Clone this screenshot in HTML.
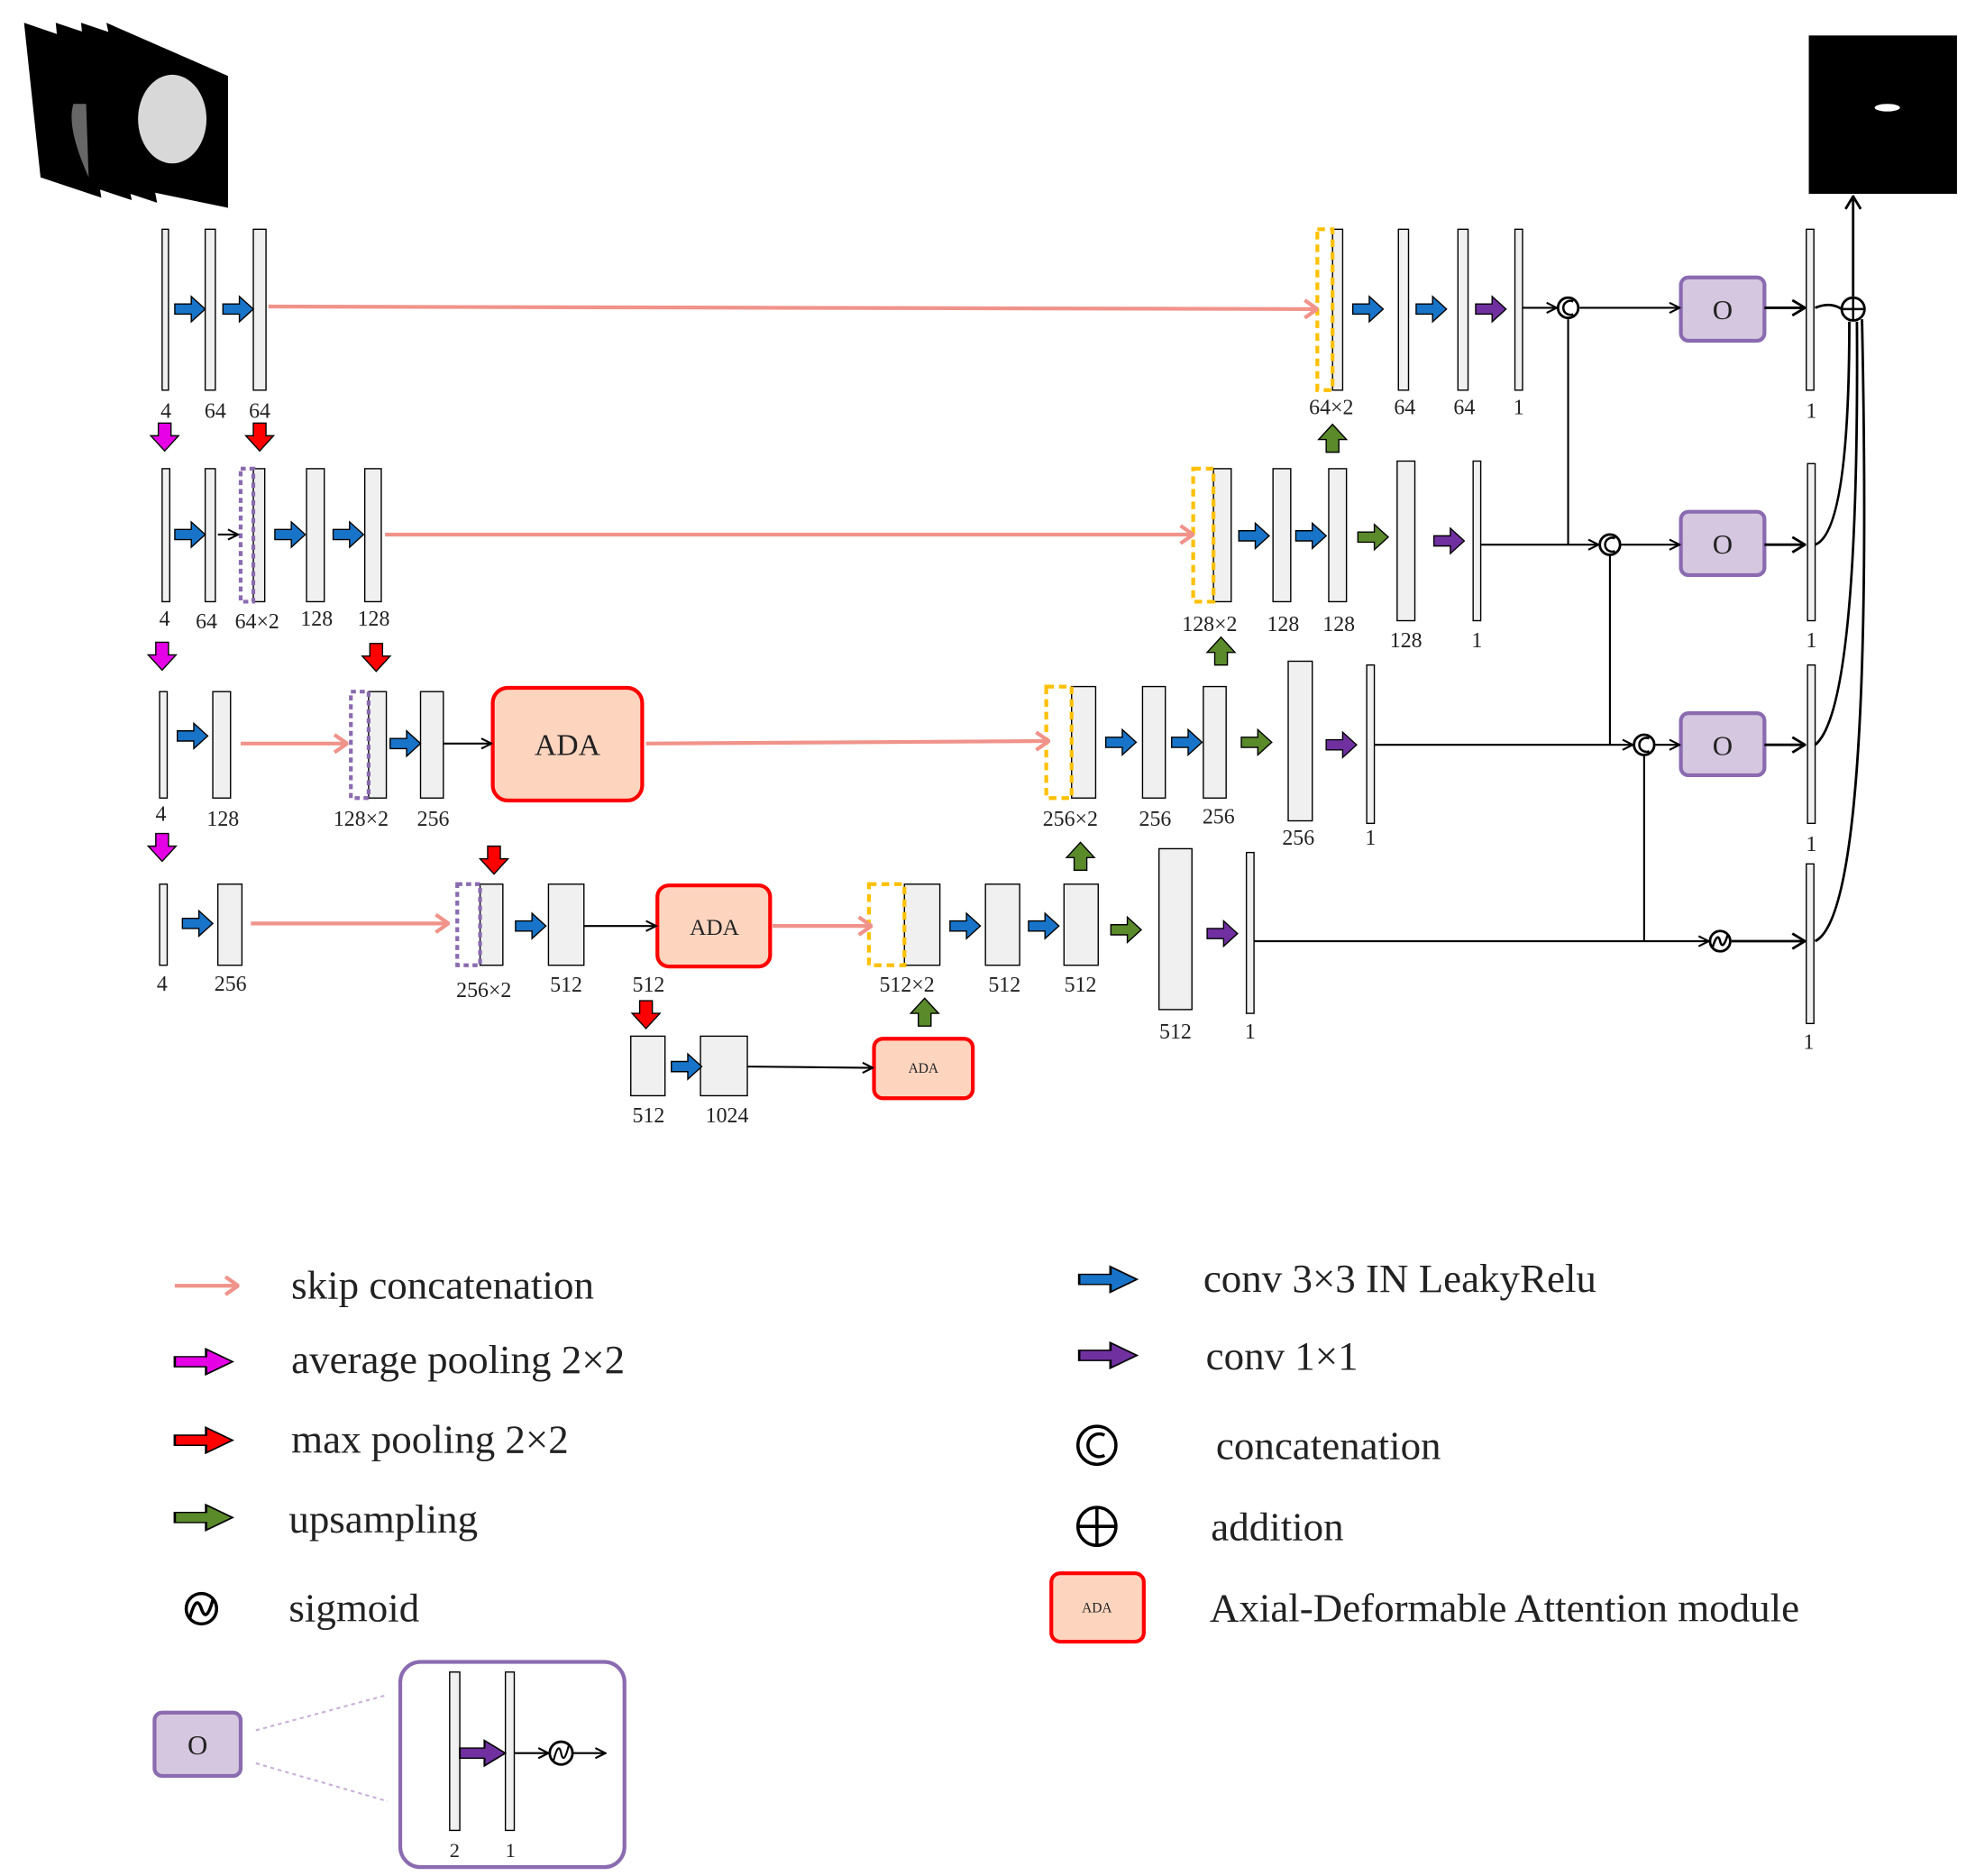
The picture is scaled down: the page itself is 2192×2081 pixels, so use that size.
<!DOCTYPE html>
<html><head><meta charset="utf-8"><style>
html,body{margin:0;padding:0;background:#fff}
svg{display:block}
text{font-family:"Liberation Serif",serif;fill:#222}
</style></head><body>
<svg width="2192" height="2081" viewBox="0 0 1560 1481" preserveAspectRatio="none" xmlns="http://www.w3.org/2000/svg">
<defs>
<path id="ar" d="M0,6 H13 V0 L24,10 L13,20 V14 H0 Z" stroke="#000" stroke-width="1"/>
<path id="ad" d="M5,0 H15 V10 H21 L10,22 L-1,10 H5 Z" stroke="#000" stroke-width="1"/>
<path id="au" d="M5,22 H15 V12 H21 L10,0 L-1,12 H5 Z" stroke="#000" stroke-width="1"/>
<marker id="pk" markerWidth="12" markerHeight="16" refX="11" refY="8" orient="auto" markerUnits="userSpaceOnUse"><path d="M1,1 L11,8 L1,15" fill="none" stroke="#f0938a" stroke-width="3"/></marker>
<marker id="bk" markerWidth="10" markerHeight="10" refX="9" refY="5" orient="auto" markerUnits="userSpaceOnUse"><path d="M1,1 L9,5 L1,9" fill="none" stroke="#000" stroke-width="1.5"/></marker>
<marker id="bk2" markerWidth="12" markerHeight="14" refX="11" refY="7" orient="auto" markerUnits="userSpaceOnUse"><path d="M1,1 L11,7 L1,13" fill="none" stroke="#000" stroke-width="2"/></marker>
</defs>

<!-- brain images -->
<polygon points="19,18 60,32 80,156 32,140" fill="#000"/>
<polygon points="44,18 80,30 104,158 56,142" fill="#000"/>
<polygon points="64,18 100,30 124,160 76,144" fill="#000"/>
<polygon points="84,18 180,60 180,164 112,150" fill="#000"/>
<path d="M58,82 Q52,100 70,140 L68,82Z" fill="#666"/>
<ellipse cx="136" cy="94" rx="27" ry="35" fill="#d8d8d8"/>

<!-- output image -->
<rect x="1428" y="28" width="117" height="125" fill="#000"/>
<ellipse cx="1490" cy="85" rx="10" ry="3" fill="#fff"/>

<g stroke="#000" stroke-width="1" fill="#f0f0f0">
<rect x="128" y="181" width="5" height="127"/><rect x="162" y="181" width="8" height="127"/><rect x="200" y="181" width="10" height="127"/>
<rect x="1052" y="181" width="8" height="127"/><rect x="1104" y="181" width="8" height="127"/><rect x="1151" y="181" width="8" height="127"/><rect x="1196" y="181" width="6" height="127"/>
<rect x="1426" y="181" width="6" height="127"/>
<rect x="128" y="370" width="6" height="105"/><rect x="162" y="370" width="8" height="105"/><rect x="200" y="370" width="9" height="105"/><rect x="242" y="370" width="14" height="105"/><rect x="288" y="370" width="13" height="105"/>
<rect x="958" y="370" width="14" height="105"/><rect x="1005" y="370" width="14" height="105"/><rect x="1049" y="370" width="14" height="105"/><rect x="1103" y="364" width="14" height="126"/><rect x="1163" y="364" width="6" height="126"/>
<rect x="1427" y="366" width="6" height="124"/>
<rect x="126" y="546" width="6" height="84"/><rect x="168" y="546" width="14" height="84"/><rect x="291" y="546" width="14" height="84"/><rect x="332" y="546" width="18" height="84"/>
<rect x="846" y="542" width="19" height="88"/><rect x="902" y="542" width="18" height="88"/><rect x="950" y="542" width="18" height="88"/><rect x="1017" y="522" width="19" height="126"/><rect x="1079" y="525" width="6" height="125"/>
<rect x="1427" y="525" width="6" height="125"/>
<rect x="126" y="698" width="6" height="64"/><rect x="172" y="698" width="19" height="64"/><rect x="379" y="698" width="18" height="64"/><rect x="433" y="698" width="28" height="64"/>
<rect x="714" y="698" width="28" height="64"/><rect x="778" y="698" width="27" height="64"/><rect x="840" y="698" width="27" height="64"/><rect x="915" y="670" width="26" height="127"/><rect x="984" y="673" width="6" height="127"/>
<rect x="1426" y="682" width="6" height="126"/>
<rect x="498" y="818" width="27" height="47"/><rect x="553" y="818" width="37" height="47"/>
</g>

<g fill="none" stroke-width="3" stroke-dasharray="6,4">
<rect x="1040" y="181" width="12" height="127" stroke="#ffc000"/>
<rect x="942" y="370" width="16" height="105" stroke="#ffc000"/>
<rect x="826" y="542" width="20" height="88" stroke="#ffc000"/>
<rect x="686" y="698" width="28" height="64" stroke="#ffc000"/>
<rect x="190" y="370" width="10" height="105" stroke="#8a6bb0" stroke-dasharray="4,3"/>
<rect x="277" y="546" width="14" height="84" stroke="#8a6bb0" stroke-dasharray="4,3"/>
<rect x="361" y="698" width="18" height="64" stroke="#8a6bb0" stroke-dasharray="4,3"/>
</g>

<g stroke="#f0938a" stroke-width="3" fill="none" marker-end="url(#pk)">
<line x1="212" y1="242" x2="1040" y2="244"/>
<line x1="304" y1="422" x2="942" y2="422"/>
<line x1="190" y1="587" x2="274" y2="587"/>
<line x1="510" y1="587" x2="828" y2="585"/>
<line x1="198" y1="729" x2="354" y2="729"/>
<line x1="610" y1="731" x2="688" y2="731"/>
</g>

<g fill="#fdd5bf" stroke="#ff0000" stroke-width="3">
<rect x="389" y="543" width="118" height="89" rx="12"/>
<rect x="519" y="699" width="89" height="64" rx="9"/>
<rect x="690" y="820" width="78" height="47" rx="7"/>
<rect x="830" y="1242" width="73" height="54" rx="7"/>
</g>
<text x="448" y="596" font-size="24" text-anchor="middle">ADA</text>
<text x="564" y="738" font-size="18" text-anchor="middle">ADA</text>
<text x="729" y="847" font-size="11" text-anchor="middle">ADA</text>
<text x="866" y="1273" font-size="11" text-anchor="middle">ADA</text>

<g fill="#d5c7e0" stroke="#8a6bb0" stroke-width="3">
<rect x="1327" y="219" width="66" height="50" rx="6"/>
<rect x="1327" y="404" width="66" height="50" rx="6"/>
<rect x="1327" y="563" width="66" height="49" rx="6"/>
<rect x="122" y="1352" width="68" height="50" rx="6"/>
</g>
<g font-size="22" text-anchor="middle"><text x="1360" y="252">O</text><text x="1360" y="437">O</text><text x="1360" y="596">O</text><text x="156" y="1385">O</text></g>

<g fill="#1874c8">
<use href="#ar" x="138" y="234"/><use href="#ar" x="176" y="234"/>
<use href="#ar" x="138" y="412"/><use href="#ar" x="217" y="412"/><use href="#ar" x="263" y="412"/>
<use href="#ar" x="140" y="571"/><use href="#ar" x="308" y="577"/>
<use href="#ar" x="144" y="719"/><use href="#ar" x="407" y="721"/>
<use href="#ar" x="1068" y="234"/><use href="#ar" x="1118" y="234"/>
<use href="#ar" x="978" y="413"/><use href="#ar" x="1023" y="413"/>
<use href="#ar" x="873" y="576"/><use href="#ar" x="925" y="576"/>
<use href="#ar" x="750" y="721"/><use href="#ar" x="812" y="721"/>
<use href="#ar" x="530" y="832"/>
</g>
<g fill="#7030a0">
<use href="#ar" x="1165" y="234"/><use href="#ar" x="1132" y="417"/><use href="#ar" x="1047" y="578"/><use href="#ar" x="953" y="727"/>
</g>
<g fill="#5a8a2a">
<use href="#ar" x="1072" y="414"/><use href="#ar" x="980" y="576"/><use href="#ar" x="877" y="724"/>
<use href="#au" x="1042" y="335"/><use href="#au" x="954" y="503"/><use href="#au" x="843" y="665"/><use href="#au" x="720" y="788"/>
</g>
<g fill="#e600e6"><use href="#ad" x="120" y="334"/><use href="#ad" x="118" y="507"/><use href="#ad" x="118" y="658"/></g>
<g fill="#ff0000"><use href="#ad" x="195" y="334"/><use href="#ad" x="287" y="508"/><use href="#ad" x="380" y="668"/><use href="#ad" x="500" y="790"/></g>

<g stroke="#000" stroke-width="1.5" fill="none">
<line x1="172" y1="422" x2="188" y2="422" marker-end="url(#bk)"/>
<line x1="350" y1="587" x2="388" y2="587" marker-end="url(#bk)"/>
<line x1="461" y1="731" x2="518" y2="731" marker-end="url(#bk)"/>
<line x1="590" y1="842" x2="689" y2="843" marker-end="url(#bk)"/>
<line x1="1202" y1="243" x2="1229" y2="243" marker-end="url(#bk)"/>
<line x1="1247" y1="243" x2="1326" y2="243" marker-end="url(#bk)"/>
<line x1="1238" y1="252" x2="1238" y2="430"/>
<line x1="1169" y1="430" x2="1262" y2="430" marker-end="url(#bk)"/>
<line x1="1280" y1="430" x2="1326" y2="430" marker-end="url(#bk)"/>
<line x1="1271" y1="438" x2="1271" y2="588"/>
<line x1="1085" y1="588" x2="1289" y2="588" marker-end="url(#bk)"/>
<line x1="1307" y1="588" x2="1326" y2="588" marker-end="url(#bk)"/>
<line x1="1298" y1="596" x2="1298" y2="743"/>
<line x1="990" y1="743" x2="1349" y2="743" marker-end="url(#bk)"/>
<line x1="1367" y1="743" x2="1425" y2="743" stroke-width="2" marker-end="url(#bk2)"/>
<line x1="1393" y1="243" x2="1425" y2="243" stroke-width="2" marker-end="url(#bk2)"/>
<line x1="1393" y1="430" x2="1425" y2="430" stroke-width="2" marker-end="url(#bk2)"/>
<line x1="1393" y1="588" x2="1425" y2="588" stroke-width="2" marker-end="url(#bk2)"/>
<path d="M1433,243 Q1445,238 1454,244" stroke-width="2"/>
<path d="M1433,430 Q1460,420 1460,254" stroke-width="2"/>
<path d="M1433,588 Q1468,560 1466,254" stroke-width="2"/>
<path d="M1433,743 Q1480,720 1470,252" stroke-width="2"/>
<line x1="1463" y1="234" x2="1463" y2="155" stroke-width="2" marker-end="url(#bk2)"/>
</g>
<g fill="#fff" stroke="#000" stroke-width="2">
<circle cx="1238" cy="243" r="8"/><circle cx="1271" cy="430" r="8"/><circle cx="1298" cy="588" r="8"/>
<circle cx="1358" cy="743" r="8"/><circle cx="1463" cy="244" r="9"/>
</g>
<g fill="none" stroke="#000" stroke-width="1.8">
<path d="M1242,238 A5.5,5.5 0 1 0 1242,248"/><path d="M1275,425 A5.5,5.5 0 1 0 1275,435"/><path d="M1302,583 A5.5,5.5 0 1 0 1302,593"/>
<path d="M1352,748 Q1356,735 1358,743 Q1360,751 1364,738"/>
<path d="M1454,244 H1472 M1463,235 V253"/>
</g>

<g font-size="17" text-anchor="middle">
<text x="131" y="330">4</text><text x="170" y="330">64</text><text x="205" y="330">64</text>
<text x="1051" y="327">64×2</text><text x="1109" y="327">64</text><text x="1156" y="327">64</text><text x="1199" y="327">1</text><text x="1430" y="330">1</text>
<text x="130" y="494">4</text><text x="163" y="496">64</text><text x="203" y="496">64×2</text><text x="250" y="494">128</text><text x="295" y="494">128</text>
<text x="955" y="498">128×2</text><text x="1013" y="498">128</text><text x="1057" y="498">128</text><text x="1110" y="511">128</text><text x="1166" y="511">1</text><text x="1430" y="511">1</text>
<text x="127" y="648">4</text><text x="176" y="652">128</text><text x="285" y="652">128×2</text><text x="342" y="652">256</text>
<text x="845" y="652">256×2</text><text x="912" y="652">256</text><text x="962" y="650">256</text><text x="1025" y="667">256</text><text x="1082" y="667">1</text><text x="1430" y="672">1</text>
<text x="128" y="782">4</text><text x="182" y="782">256</text><text x="382" y="787">256×2</text><text x="447" y="783">512</text><text x="512" y="783">512</text>
<text x="716" y="783">512×2</text><text x="793" y="783">512</text><text x="853" y="783">512</text><text x="928" y="820">512</text><text x="987" y="820">1</text><text x="1428" y="828">1</text>
<text x="512" y="886">512</text><text x="574" y="886">1024</text>
</g>

<!-- legend -->
<line x1="138" y1="1015" x2="188" y2="1015" stroke="#f0938a" stroke-width="3" marker-end="url(#pk)"/>
<g transform="translate(138,1065) scale(1.9,1)"><use href="#ar" fill="#e600e6"/></g>
<g transform="translate(138,1127) scale(1.9,1)"><use href="#ar" fill="#ff0000"/></g>
<g transform="translate(138,1188) scale(1.9,1)"><use href="#ar" fill="#5a8a2a"/></g>
<g transform="translate(852,1000) scale(1.9,1)"><use href="#ar" fill="#1874c8"/></g>
<g transform="translate(852,1060) scale(1.9,1)"><use href="#ar" fill="#7030a0"/></g>
<circle cx="159" cy="1270" r="12" fill="none" stroke="#000" stroke-width="2.5"/>
<path d="M150,1277 Q155,1258 159,1270 Q163,1282 168,1263" fill="none" stroke="#000" stroke-width="2.5"/>
<circle cx="866" cy="1141" r="15" fill="none" stroke="#000" stroke-width="2.5"/>
<path d="M872,1133 A9,9 0 1 0 872,1149" fill="none" stroke="#000" stroke-width="2.5"/>
<circle cx="866" cy="1205" r="15" fill="none" stroke="#000" stroke-width="2.5"/>
<path d="M851,1205 H881 M866,1190 V1220" stroke="#000" stroke-width="2.5"/>
<g font-size="32">
<text x="230" y="1025">skip concatenation</text>
<text x="230" y="1084">average pooling 2×2</text>
<text x="230" y="1147">max pooling 2×2</text>
<text x="228" y="1210">upsampling</text>
<text x="228" y="1280">sigmoid</text>
<text x="950" y="1020">conv 3×3 IN LeakyRelu</text>
<text x="952" y="1081">conv 1×1</text>
<text x="960" y="1152">concatenation</text>
<text x="956" y="1216">addition</text>
<text x="955" y="1280">Axial-Deformable Attention module</text>
</g>

<g stroke="#c8b0d8" stroke-width="1.5" stroke-dasharray="3,3"><line x1="202" y1="1366" x2="306" y2="1338"/><line x1="202" y1="1392" x2="306" y2="1422"/></g>
<rect x="316" y="1312" width="177" height="162" rx="16" fill="none" stroke="#8a6bb0" stroke-width="3"/>
<rect x="355" y="1320" width="8" height="125" fill="#f0f0f0" stroke="#000"/>
<rect x="399" y="1320" width="7" height="125" fill="#f0f0f0" stroke="#000"/>
<g transform="translate(363,1374) scale(1.5,1)"><use href="#ar" fill="#7030a0"/></g>
<line x1="406" y1="1384" x2="433" y2="1384" stroke="#000" stroke-width="1.5" marker-end="url(#bk)"/>
<circle cx="443" cy="1384" r="9" fill="#fff" stroke="#000" stroke-width="2"/>
<path d="M437,1390 Q441,1374 443,1384 Q445,1394 449,1378" fill="none" stroke="#000" stroke-width="1.5"/>
<line x1="452" y1="1384" x2="478" y2="1384" stroke="#000" stroke-width="1.5" marker-end="url(#bk)"/>
<text x="359" y="1466" font-size="16" text-anchor="middle">2</text>
<text x="403" y="1466" font-size="16" text-anchor="middle">1</text>
</svg>
</body></html>
